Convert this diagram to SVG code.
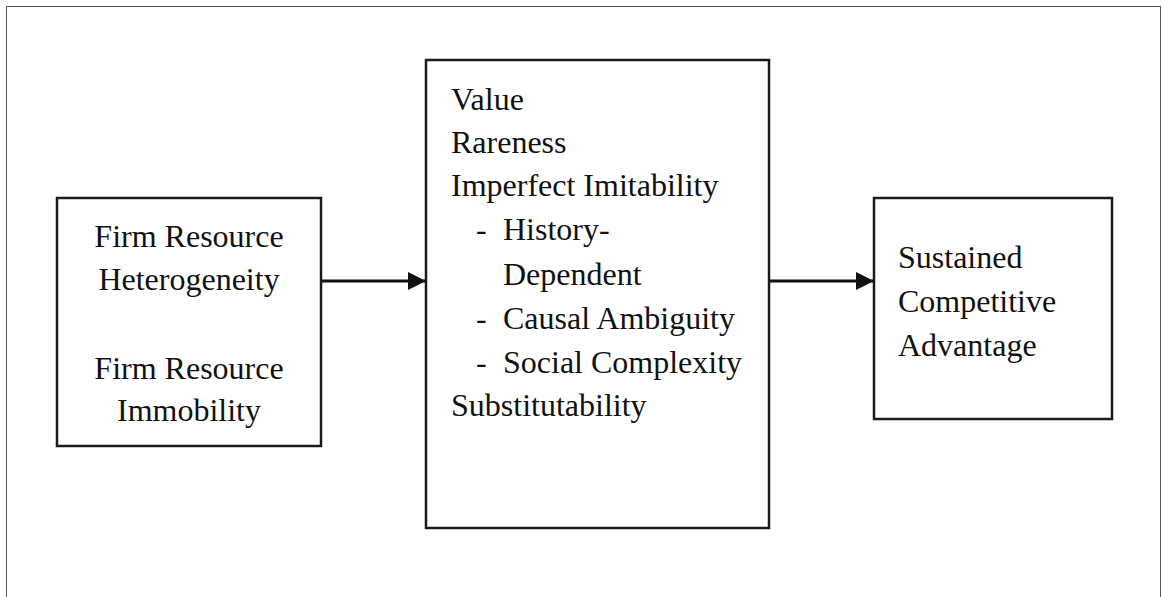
<svg xmlns="http://www.w3.org/2000/svg" width="1163" height="597" viewBox="0 0 1163 597">
<style>
.box{fill:#fff;stroke:#1a1a1a;stroke-width:2.5}
.t{font-family:"Liberation Serif","Times New Roman",serif;font-size:32px;fill:#111}
.c{text-anchor:middle}
.conn{stroke:#111;stroke-width:3;fill:none}
</style>
<defs>
<marker id="ah" markerUnits="userSpaceOnUse" markerWidth="20" markerHeight="20" refX="18" refY="9" orient="auto">
<path d="M0,0 L18,9 L0,18 Z" fill="#111"/>
</marker>
</defs>
<rect width="1163" height="597" fill="#fff"/>
<path d="M6.5,597 V6.5 H1160.5 V597" fill="none" stroke="#555" stroke-width="1"/>
<g id="conditions">
<rect class="box" x="57" y="198" width="264" height="248"/>
<text class="t c" x="189" y="247">Firm Resource</text>
<text class="t c" x="189" y="290">Heterogeneity</text>
<text class="t c" x="189" y="379">Firm Resource</text>
<text class="t c" x="189" y="421">Immobility</text>
</g>
<g id="attributes">
<rect class="box" x="426" y="60" width="343" height="468"/>
<text class="t" x="451" y="110">Value</text>
<text class="t" x="451" y="153">Rareness</text>
<text class="t" x="451" y="196">Imperfect Imitability</text>
<text class="t" x="476" y="240">-</text><text class="t" x="503" y="240">History-</text>
<text class="t" x="503" y="285">Dependent</text>
<text class="t" x="476" y="329">-</text><text class="t" x="503" y="329">Causal Ambiguity</text>
<text class="t" x="476" y="373">-</text><text class="t" x="503" y="373">Social Complexity</text>
<text class="t" x="451" y="416">Substitutability</text>
</g>
<g id="outcome">
<rect class="box" x="874" y="198" width="238" height="221"/>
<text class="t" x="898" y="268">Sustained</text>
<text class="t" x="898" y="312">Competitive</text>
<text class="t" x="898" y="356">Advantage</text>
</g>
<g id="connectors">
<line class="conn" x1="321" y1="281" x2="426" y2="281" marker-end="url(#ah)"/>
<line class="conn" x1="769" y1="281" x2="874" y2="281" marker-end="url(#ah)"/>
</g>
</svg>
